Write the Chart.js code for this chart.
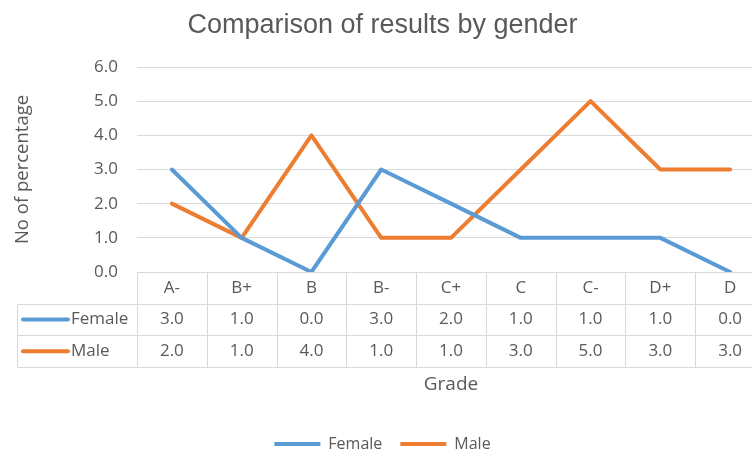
<!DOCTYPE html>
<html>
<head>
<meta charset="utf-8">
<script src="https://cdn.jsdelivr.net/npm/chart.js@4.4.1/dist/chart.umd.min.js"></script>
<style>
  html, body { margin: 0; padding: 0; background: #fff; overflow: hidden; width: 752px; height: 450px; }
  #wrap { width: 768px; height: 462px; }
</style>
</head>
<body>
<div id="wrap"><canvas id="chart" width="768" height="462"></canvas></div>
<script>
// Grades on the category axis
const grades = ['A-', 'B+', 'B', 'B-', 'C+', 'C', 'C-', 'D+', 'D'];
// Counts per grade for each gender
const female = [3, 1, 0, 3, 2, 1, 1, 1, 0];
const male = [2, 1, 4, 1, 1, 3, 5, 3, 3];
// Value-axis range and step
const yMin = 0;
const yMax = 6;
const yStep = 1;

const TEXT = '#595959';
const GRID = '#d9d9d9';
const BLUE = '#5b9bd5';
const ORANGE = '#ed7d31';
const BODY_FONT = "'Open Sans', sans-serif";

// Data table under the plot: header row of grades, one row per series
const dataTable = {
  id: 'dataTable',
  afterDraw(chart) {
    const { ctx, chartArea: ca, scales: { x } } = chart;
    const n = chart.data.labels.length;
    const step = x.getPixelForValue(1) - x.getPixelForValue(0);
    const left0 = x.getPixelForValue(0) - step / 2;
    const right = x.getPixelForValue(n - 1) + step / 2;
    const rowH = 31.7;
    const top = ca.bottom;
    const keyLeft = 17;
    const px = v => Math.round(v) + 0.5;

    ctx.save();
    ctx.strokeStyle = GRID;
    ctx.lineWidth = 1;
    ctx.beginPath();
    ctx.moveTo(px(left0), px(top));
    ctx.lineTo(right, px(top));
    for (let r = 1; r <= 3; r++) {
      ctx.moveTo(px(keyLeft), px(top + r * rowH));
      ctx.lineTo(right, px(top + r * rowH));
    }
    for (let i = 0; i <= n; i++) {
      const cx = px(left0 + i * step);
      ctx.moveTo(cx, px(top));
      ctx.lineTo(cx, px(top + 3 * rowH));
    }
    ctx.moveTo(px(keyLeft), px(top + rowH));
    ctx.lineTo(px(keyLeft), px(top + 3 * rowH));
    ctx.stroke();

    ctx.fillStyle = TEXT;
    ctx.font = "17px " + BODY_FONT;
    ctx.textAlign = 'center';
    ctx.textBaseline = 'middle';
    chart.data.labels.forEach((lab, i) => {
      ctx.fillText(lab, x.getPixelForValue(i), top + rowH / 2);
    });

    chart.data.datasets.forEach((ds, r) => {
      const cy = top + (r + 1.5) * rowH;
      ctx.strokeStyle = ds.borderColor;
      ctx.lineWidth = 4;
      ctx.lineCap = 'round';
      ctx.beginPath();
      ctx.moveTo(23, cy);
      ctx.lineTo(68, cy);
      ctx.stroke();
      ctx.fillStyle = TEXT;
      ctx.textAlign = 'left';
      ctx.fillText(ds.label, 71, cy);
      ctx.textAlign = 'center';
      ds.data.forEach((v, i) => {
        ctx.fillText(v.toFixed(1), x.getPixelForValue(i), cy);
      });
    });

    // Category axis title
    ctx.font = "19px " + BODY_FONT;
    ctx.fillText('Grade', (left0 + right) / 2, top + 3 * rowH + 17);
    ctx.restore();
  }
};

const lineStyle = { borderWidth: 4, tension: 0, borderJoinStyle: 'round', borderCapStyle: 'round', pointRadius: 0, pointHoverRadius: 0 };

new Chart(document.getElementById('chart'), {
  type: 'line',
  data: {
    labels: grades,
    datasets: [
      Object.assign({ label: 'Female', data: female, borderColor: BLUE, backgroundColor: BLUE }, lineStyle),
      Object.assign({ label: 'Male', data: male, borderColor: ORANGE, backgroundColor: ORANGE }, lineStyle)
    ]
  },
  options: {
    responsive: false,
    animation: false,
    layout: { padding: { left: 0, right: 3, top: 0, bottom: 0 } },
    plugins: {
      title: {
        display: true,
        text: 'Comparison of results by gender',
        color: TEXT,
        font: { family: "'Liberation Sans', Arial, sans-serif", size: 27, weight: 'normal' },
        padding: { top: 9, bottom: 25.6 }
      },
      legend: {
        position: 'bottom',
        labels: {
          color: TEXT,
          font: { family: BODY_FONT, size: 16 },
          usePointStyle: true,
          pointStyle: 'line',
          pointStyleWidth: 46,
          padding: 18
        }
      },
      tooltip: { enabled: false }
    },
    scales: {
      x: {
        type: 'category',
        offset: true,
        grid: { display: false },
        border: { display: false },
        ticks: { display: false },
        afterFit(scale) {
          scale.height = scale.chart.height - 272 - scale.chart.legend.height;
        }
      },
      y: {
        min: yMin,
        max: yMax,
        grid: { color: GRID, drawTicks: false },
        border: { display: false },
        ticks: {
          stepSize: yStep,
          padding: 19,
          color: TEXT,
          font: { family: BODY_FONT, size: 17 },
          callback: v => Number(v).toFixed(1)
        },
        title: {
          display: true,
          text: 'No of percentage',
          color: TEXT,
          font: { family: BODY_FONT, size: 18.5 },
          padding: { top: 12, bottom: 0 }
        },
        afterFit(scale) {
          scale.width = 137;
        }
      }
    }
  },
  plugins: [dataTable]
});
</script>
</body>
</html>
